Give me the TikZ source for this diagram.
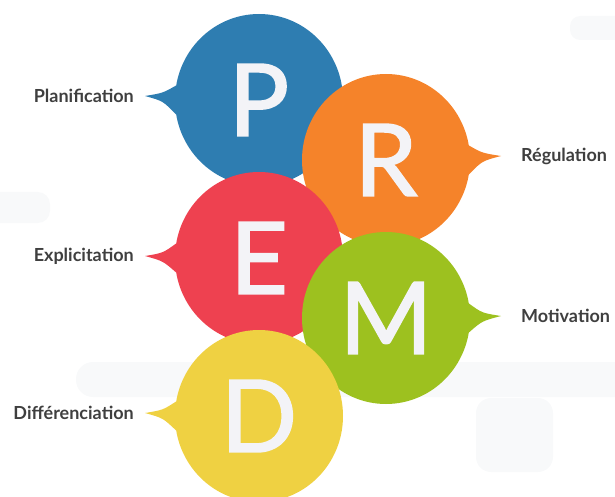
\documentclass[tikz,border=0pt]{standalone}
\usepackage{fontspec}
\setmainfont{Lato}
\newfontfamily\letterfont[FakeBold=1.8]{Lato}
\usetikzlibrary{shapes.geometric,positioning}
\definecolor{pblue}{HTML}{2E7DB1}
\definecolor{rorange}{HTML}{F5832A}
\definecolor{ered}{HTML}{EE4150}
\definecolor{mgreen}{HTML}{9DC11F}
\definecolor{dyellow}{HTML}{EFD142}
\definecolor{lettercol}{HTML}{F3F3F7}
\definecolor{labelcol}{HTML}{3F3F3F}
\definecolor{shadow}{HTML}{F8F9FA}
\begin{document}
\begin{tikzpicture}[x=1pt,y=1pt,
  bubble/.style={ellipse,minimum width=168pt,minimum height=172pt,inner sep=0pt,outer sep=0pt,
    text=lettercol,font=\letterfont\fontsize{100}{100}\selectfont},
  lbl/.style={text=labelcol,font=\bfseries\fontsize{18}{21}\selectfont,inner sep=0pt}]
\useasboundingbox (0,0) rectangle (615,496);
% faint background shapes
\fill[shadow,rounded corners=17pt] (76,99) rectangle (640,134);
\fill[shadow,rounded corners=15pt] (476,24) rectangle (553,98);
\fill[shadow,rounded corners=12pt] (-20,273) rectangle (50,304);
\fill[shadow,rounded corners=10pt] (570,456) rectangle (640,480);
% P
\node[bubble,fill=pblue] (p) at (259,396) {P};
\coordinate (ptip) at ([shift={(-30,4)}]p.west);
\fill[pblue] (p.170) .. controls ([shift={(-12,7)}]p.west) .. (ptip) .. controls ([shift={(-12,-1)}]p.west) .. (p.190) -- cycle;
\node[lbl,left=11pt of ptip] (plan) {Planification};
% R
\node[bubble,fill=rorange] (r) at (386,336) {R};
\coordinate (rtip) at ([shift={(31,4)}]r.east);
\fill[rorange] (r.10) .. controls ([shift={(12,7)}]r.east) .. (rtip) .. controls ([shift={(12,-1)}]r.east) .. (r.-10) -- cycle;
\node[lbl,right=20pt of rtip] (regul) {Régulation};
% E
\node[bubble,fill=ered] (e) at (259,238) {E};
\coordinate (etip) at ([shift={(-30,2)}]e.west);
\fill[ered] (e.170) .. controls ([shift={(-12,5)}]e.west) .. (etip) .. controls ([shift={(-12,-3)}]e.west) .. (e.190) -- cycle;
\node[lbl,left=11pt of etip] (expl) {Explicitation};
% M
\node[bubble,fill=mgreen] (m) at (386,178) {M};
\coordinate (mtip) at ([shift={(31,2)}]m.east);
\fill[mgreen] (m.10) .. controls ([shift={(12,5)}]m.east) .. (mtip) .. controls ([shift={(12,-3)}]m.east) .. (m.-10) -- cycle;
\node[lbl,right=20pt of mtip] (motiv) {Motivation};
% D
\node[bubble,fill=dyellow] (d) at (259,80) {D};
\coordinate (dtip) at ([shift={(-30,3)}]d.west);
\fill[dyellow] (d.170) .. controls ([shift={(-12,6)}]d.west) .. (dtip) .. controls ([shift={(-12,-2)}]d.west) .. (d.190) -- cycle;
\node[lbl,left=11pt of dtip] (diff) {Différenciation};
\end{tikzpicture}
\end{document}
